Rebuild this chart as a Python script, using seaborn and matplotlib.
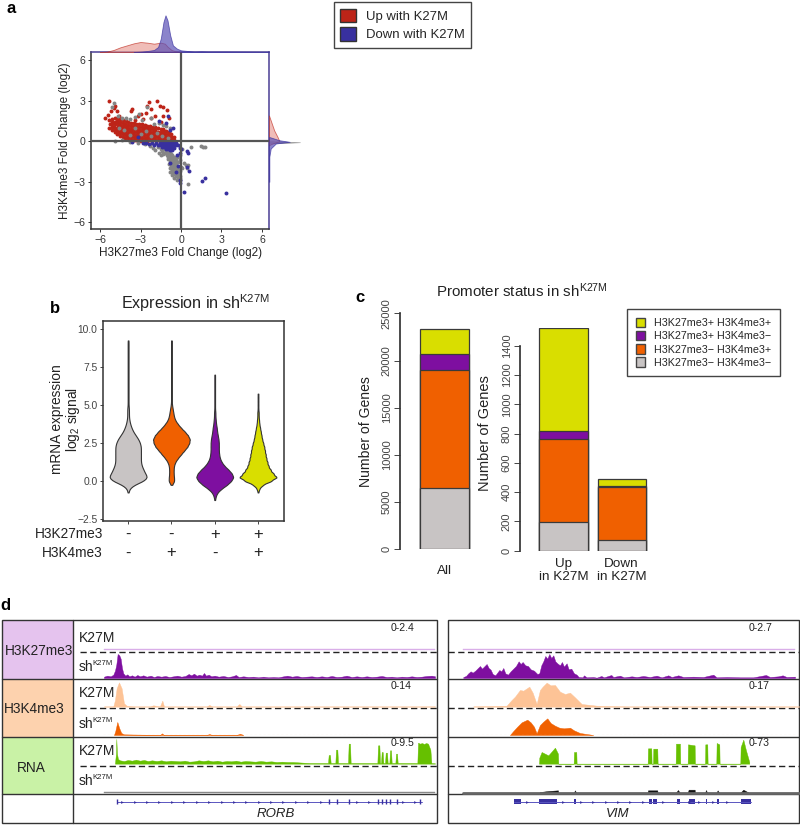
import numpy as np
import pandas as pd
import seaborn as sns
import matplotlib.pyplot as plt
from matplotlib.patches import Patch, Rectangle

# ---- panel a: fold changes ----
red_points = [
    (-5.3,1.0),(-5.25,1.3),(-5.3,1.55),(-5.12,0.85),(-5.1,1.05),(-5.15,1.25),(-5.08,1.45),(-5.1,1.65),
    (-4.92,0.65),(-4.9,0.85),(-4.95,1.05),(-4.88,1.25),(-4.9,1.45),(-4.92,1.68),(-4.72,0.55),(-4.7,0.75),(-4.75,0.95),
    (-4.68,1.15),(-4.7,1.35),(-4.72,1.5),(-4.7,1.72),(-4.52,0.42),(-4.5,0.62),(-4.55,0.82),(-4.48,1.02),(-4.5,1.22),
    (-4.52,1.42),(-4.5,1.62),(-4.32,0.32),(-4.3,0.52),(-4.35,0.72),(-4.28,0.92),(-4.3,1.12),(-4.32,1.32),(-4.3,1.55),(-4.12,0.25),
    (-4.1,0.45),(-4.15,0.65),(-4.08,0.85),(-4.1,1.05),(-4.12,1.25),(-4.1,1.48),(-3.92,0.2),(-3.9,0.4),(-3.95,0.6),
    (-3.88,0.8),(-3.9,1.0),(-3.92,1.22),(-3.9,1.42),(-3.72,0.12),(-3.7,0.32),(-3.75,0.52),(-3.68,0.72),(-3.7,0.92),
    (-3.72,1.12),(-3.7,1.38),(-3.52,0.1),(-3.5,0.3),(-3.55,0.5),(-3.48,0.7),(-3.5,0.9),(-3.52,1.12),(-3.5,1.35),(-3.32,0.08),
    (-3.3,0.28),(-3.35,0.48),(-3.28,0.68),(-3.3,0.88),(-3.32,1.08),(-3.3,1.3),(-3.12,0.05),(-3.1,0.25),(-3.15,0.45),
    (-3.08,0.65),(-3.1,0.85),(-3.12,1.05),(-3.1,1.28),(-2.92,0.05),(-2.9,0.25),(-2.95,0.45),(-2.88,0.65),(-2.9,0.85),
    (-2.92,1.02),(-2.9,1.25),(-2.72,0.05),(-2.7,0.25),(-2.75,0.45),(-2.68,0.65),(-2.7,0.85),(-2.72,1.0),(-2.7,1.2),(-2.52,0.05),
    (-2.5,0.25),(-2.55,0.45),(-2.48,0.65),(-2.5,0.85),(-2.52,0.98),(-2.5,1.15),(-2.32,0.08),(-2.3,0.28),(-2.35,0.48),
    (-2.28,0.68),(-2.3,0.88),(-2.3,1.1),(-2.12,0.08),(-2.1,0.28),(-2.15,0.48),(-2.08,0.68),(-2.1,0.88),(-2.1,1.05),(-1.92,0.08),
    (-1.9,0.28),(-1.95,0.48),(-1.88,0.68),(-1.9,0.85),(-1.9,1.02),(-1.72,0.1),(-1.7,0.3),(-1.75,0.5),(-1.68,0.7),(-1.7,0.95),
    (-1.52,0.1),(-1.5,0.3),(-1.55,0.5),(-1.48,0.7),(-1.5,0.9),(-1.32,0.12),(-1.3,0.32),(-1.35,0.52),(-1.28,0.72),(-1.3,0.88),
    (-1.12,0.12),(-1.1,0.32),(-1.15,0.52),(-1.08,0.72),(-0.92,0.1),(-0.9,0.3),(-0.95,0.5),(-0.88,0.66),
    (-0.72,0.1),(-0.7,0.3),(-0.75,0.5),(-0.55,0.12),(-0.55,0.3),(-0.52,0.02),
    (-5.3,3.0),(-5.2,2.25),(-5.4,1.95),(-5.6,1.75),(-5.0,2.45),(-4.9,2.6),(-4.75,2.2),(-4.6,1.9),(-3.6,2.35),
    (-3.7,2.2),(-3.2,1.9),(-3.0,2.0),(-2.4,2.9),(-2.55,2.6),(-2.2,2.35),(-2.6,2.05),(-1.75,3.0),(-1.55,2.6),
    (-1.3,2.55),(-1.05,2.3),(-1.9,1.9),(-2.2,1.75),(-1.3,1.85),(-0.9,1.75),(-2.8,1.65),(-1.5,1.4),(-3.4,1.55),
]
gray_points = [
    (-4.95,2.8),(-5.1,2.5),(-4.7,1.9),(-4.4,1.75),(-4.1,1.7),(-3.8,1.65),(-3.4,1.8),(-3.1,2.0),(-2.9,1.55),
    (-2.5,2.5),(-2.2,1.7),(-2.0,1.3),(-1.6,1.35),(-1.3,1.2),(-1.1,1.1),(-0.8,1.0),(-4.6,1.0),(-4.2,0.8),
    (-3.8,0.45),(-3.4,0.95),(-3.0,0.55),(-2.6,0.75),(-2.2,0.35),(-1.8,0.6),(-1.4,0.4),(-1.0,0.2),(-4.9,0.05),
    (-4.4,0.1),(-3.8,-0.05),(-3.2,-0.12),(-2.7,-0.2),(-2.3,-0.35),(-2.1,-0.5),(-1.9,-0.65),(-1.7,-0.45),
    (-1.5,-0.55),(-1.4,-0.75),(-1.25,-0.6),(-1.2,-0.9),(-1.1,-0.75),(-1.05,-1.05),(-0.95,-0.9),(-0.95,-1.2),
    (-0.85,-0.75),(-0.85,-1.05),(-0.85,-1.35),(-0.8,-1.55),(-0.75,-0.95),(-0.75,-1.2),(-0.75,-1.45),(-0.75,-1.75),
    (-0.7,-2.0),(-0.65,-1.05),(-0.65,-1.3),(-0.65,-1.6),(-0.65,-1.85),(-0.65,-2.15),(-0.6,-2.35),(-0.55,-1.15),
    (-0.55,-1.45),(-0.55,-1.7),(-0.55,-1.95),(-0.55,-2.2),(-0.5,-2.45),(-0.45,-1.3),(-0.45,-1.6),(-0.45,-1.85),
    (-0.45,-2.1),(-0.45,-2.35),(-0.4,-2.6),(-0.35,-1.5),(-0.35,-1.75),(-0.35,-2.0),(-0.35,-2.25),(-0.35,-2.5),
    (-0.25,-1.9),(-0.25,-2.15),(-0.25,-2.4),(-0.25,-2.7),(-0.15,-2.3),(-0.15,-2.6),(-0.1,-2.9),(-0.1,-1.0),
    (-1.3,-0.95),(-1.0,-1.35),(-0.9,-1.7),(-0.85,-2.0),(-0.8,-2.25),(-0.7,-2.5),(-0.55,-2.7),(-0.2,-1.55),(-0.15,-1.9),
    (-0.1,-1.4),(-0.25,-1.2),(-0.35,-1.25),(-0.1,-2.55),(-0.05,-2.75),(-0.3,-2.9),(-1.6,-0.85),(-1.45,-1.05),
    (0.1,-0.6),(0.2,-1.6),(0.35,-1.8),(0.5,-1.75),(0.45,-2.0),(0.75,-0.45),(1.5,-0.35),(1.6,-0.4),(1.8,-0.4),
    (0.5,-3.2),(-0.05,-2.2),(0.0,-1.9),(0.1,-2.0),
]
blue_points = [
    (-3.6,-0.05),(-3.2,0.3),(-2.85,-0.15),(-2.6,-0.1),(-2.35,-0.2),(-2.15,-0.15),(-2.0,-0.25),(-1.85,-0.15),
    (-1.7,-0.3),(-1.55,-0.12),(-1.55,-0.3),(-1.4,-0.1),(-1.4,-0.25),(-1.4,-0.42),(-1.25,-0.1),(-1.25,-0.28),
    (-1.25,-0.45),(-1.1,-0.08),(-1.1,-0.25),(-1.1,-0.42),(-1.1,-0.58),(-0.95,-0.08),(-0.95,-0.25),(-0.95,-0.42),
    (-0.95,-0.6),(-0.8,-0.1),(-0.8,-0.27),(-0.8,-0.45),(-0.8,-0.62),(-0.65,-0.1),(-0.65,-0.27),(-0.65,-0.45),
    (-0.65,-0.65),(-0.5,-0.12),(-0.5,-0.3),(-0.5,-0.5),(-0.35,-0.1),(-0.35,-0.3),(-0.2,-0.25),(-1.6,1.5),
    (-1.0,1.9),(-0.85,0.85),(-1.1,1.35),(-0.6,0.95),(-0.05,-0.5),(0.0,-0.6),(-0.05,-0.9),(0.45,-0.75),
    (0.55,-0.85),(-0.3,-1.0),(-0.85,-1.6),(-0.2,-1.85),(-0.4,-2.3),(-0.1,-2.85),(-0.05,-3.1),(0.25,-3.75),
    (0.45,-1.9),(0.6,-2.2),(1.55,-2.95),(1.75,-2.75),(3.3,-3.85),
]
# marginal densities, height in arbitrary units
top_red_x = [-6.0,-5.5,-5.0,-4.5,-4.0,-3.5,-3.0,-2.5,-2.0,-1.5,-1.2,-1.0,-0.7,-0.4,0.0]
top_red_y = [0,1,6,14,20,26,30,28,25,28,25,16,6,2,0]
top_blue_x = [-3.5,-3.0,-2.5,-2.0,-1.7,-1.5,-1.3,-1.15,-1.0,-0.8,-0.6,-0.3,0.0,0.5,1.0,1.5,2.0,3.3,6.5]
top_blue_y = [0,1,3,6,15,40,90,110,95,50,20,10,5,3,1,2,1,1,0]
right_red_y = [1.9,0.8,0.3,0.0,-0.17,-0.3]
right_red_x = [0,15,25,30,10,0]
right_blue_y = [0.3,0.07,-0.05,-0.17,-0.54,-1.15,-3.0]
right_blue_x = [2,30,60,20,5,1,1]
right_gray_y = [0.02,-0.08,-0.18]
right_gray_x = [0,90,0]
fold_ticks = [-6,-3,0,3,6]

# ---- panel b: violin widths per expression level ----
expr_levels = [-1.25,-1,-.75,-.5,-.25,0,.25,.5,.75,1,
               1.25,1.5,1.75,2,2.25,2.5,2.75,3,3.25,3.5,
               3.75,4,4.25,4.5,4.75,5,5.25,5.5,5.75,6,
               6.25,6.5,6.75,7,7.25,7.5,7.75,8,8.25,8.5,
               8.75,9,9.25]
gray_counts = [0,0,1,3,14,36,46,40,36,32, 30,30,30,30,30,28,24,18,12,8, 5,3,2,2,2,1,1,1,1,1, 1,1,1,1,1,1,1,1,1,1, 1,1,1]
orange_counts = [0,0,0,0,2,9,8,7,7,8, 12,20,30,40,50,56,58,52,42,30, 20,12,8,6,4,2,1,1,1,1, 1,1,1,1,1,1,1,1,1,1, 1,1,1]
purple_counts = [1,3,8,20,36,48,55,50,40,28, 20,15,13,12,12,12,11,9,7,6, 4,3,2,2,1,1,1,1,1,1, 1,1,1,1,0,0,0,0,0,0, 0,0,0]
yellow_counts = [0,0,1,4,14,38,55,44,36,30, 27,24,22,20,18,15,12,10,8,6, 4,3,2,2,1,1,1,1,1,0, 0,0,0,0,0,0,0,0,0,0, 0,0,0]
violin_groups = ["none", "k4", "k27", "both"]
k27_marks = ["-", "-", "+", "+"]
k4_marks = ["-", "+", "-", "+"]
expr_ticks = [-2.5, 0.0, 2.5, 5.0, 7.5, 10.0]

# ---- panel c: gene counts per status ----
status_names = ["H3K27me3\u2212 H3K4me3\u2212", "H3K27me3\u2212 H3K4me3+", "H3K27me3+ H3K4me3\u2212", "H3K27me3+ H3K4me3+"]
all_genes = [[6450], [12500], [1750], [2600]]
diff_labels = ["Up\nin K27M", "Down\nin K27M"]
up_down_genes = [[195, 72], [565, 363], [55, 10], [705, 45]]
all_ticks = [0, 5000, 10000, 15000, 20000, 25000]
diff_ticks = [0, 200, 400, 600, 800, 1000, 1200, 1400]

# ---- panel d: browser tracks, position and height in track units ----
rorb_k27_top_x = [312, 1305]
rorb_k27_top_y = [3, 3]
rorb_k27_sh = [(312,4),(322,7),(332,5),(340,10),(345,22),(349,40),(353,72),(358,68),(362,58),(366,30),(370,14),(376,7),(382,11),(388,5),
    (396,8),(404,4),(412,9),(420,5),(430,8),(440,4),(452,7),(462,3),(472,6),(484,4),(496,6),(508,3),(520,5),(532,7),(544,4),(556,6),
    (566,12),(574,8),(582,13),(590,7),(598,10),(606,7),(612,15),(618,7),(626,10),(634,5),(644,7),(656,4),(670,6),(684,3),(696,5),(708,9),
    (716,3),(730,5),(745,3),(760,4),(775,2),(790,4),(805,2),(820,3),(835,2),(850,5),(862,7),(876,4),(890,6),(905,3),(920,4),(935,5),
    (950,3),(965,5),(980,3),(995,6),(1010,3),(1025,4),(1040,7),(1055,3),(1070,5),(1085,3),(1100,5),(1115,3),(1130,4),(1145,6),(1160,3),
    (1175,4),(1190,2),(1205,4),(1220,3),(1235,5),(1250,3),(1265,4),(1280,6),(1295,7),(1305,5)]
rorb_k4_top_x = [312,340,345,350,357,365,372,380,400,450,460,480,487,492,620,628,636,710,718,725,1305]
rorb_k4_top_y = [1,1,20,55,73,55,10,3,1,1,4,1,18,1,1,5,1,1,8,1,1]
rorb_k4_sh_x = [342,346,352,358,364,372,480,486,492,620,628,636,710,720,730]
rorb_k4_sh_y = [0,12,39,20,6,2,0,5,0,0,3,0,0,4,0]
rorb_rna_top = [(345,2),(348,30),(349,74),(351,30),(354,14),(360,10),(372,8),(384,11),(396,9),(408,12),(420,9),(432,11),(444,8),(456,10),(470,8),
    (484,10),(498,7),(512,9),(526,8),(540,7),(554,9),(568,6),(582,7),(596,10),(610,8),(624,10),(638,7),(652,9),(666,6),(680,8),(694,7),
    (708,9),(722,6),(736,8),(750,7),(766,6),(782,8),(798,6),(814,7),(830,5),(846,6),(862,5),(878,5),(894,4),(910,3),(930,2),(984,2),
    (986,26),(990,26),(992,2),(1006,2),(1008,42),(1012,42),(1014,2),(1044,2),(1046,60),(1050,60),(1052,2),(1132,2),(1134,55),(1138,55),(1140,2),
    (1143,2),(1145,35),(1148,35),(1150,2),(1155,2),(1157,33),(1161,33),(1163,2),(1168,2),(1170,40),(1173,40),(1175,2),(1186,2),(1188,30),(1191,30),
    (1193,2),(1252,2),(1254,63),(1260,60),(1266,62),(1272,59),(1278,62),(1284,60),(1291,42),(1294,2),(1305,1)]
rorb_rna_sh_x = [312, 1305]
rorb_rna_sh_y = [1.5, 1.5]
rorb_exons = [350,988,1010,1047,1134,1145,1157,1170,1190,1260]
rorb_span = [350, 1265]
vim_k27_top_x = [70, 1065]
vim_k27_top_y = [3, 3]
vim_k27_sh = [(70,3),(78,6),(85,14),(92,20),(98,16),(106,22),(114,30),(120,36),(126,28),(132,34),(140,42),(146,30),(152,25),(158,12),(166,8),(172,16),
    (178,24),(184,20),(190,30),(196,14),(204,10),(212,20),(220,28),(228,36),(236,50),(242,42),(248,48),(256,38),(264,36),(272,26),(282,22),(292,12),
    (298,14),(304,38),(310,50),(316,66),(322,58),(328,72),(334,60),(340,68),(346,50),(352,44),(360,38),(366,48),(372,34),(380,44),(386,26),(394,28),(402,14),
    (410,10),(416,3),(428,2),(432,8),(440,2),(460,3),(470,1),(484,6),(492,2),(514,9),(520,3),(540,7),(552,2),(575,5),(590,3),(610,6),(630,3),(650,7),
    (665,2),(685,8),(695,3),(715,8),(730,3),(760,4),(790,3),(820,10),(830,2),(860,3),(900,2),(940,2),(978,9),(990,3),(1015,5),(1028,8),(1040,3),(1065,4)]
vim_k4_top_x = [100,200,215,225,240,250,268,278,290,300,308,320,332,345,360,375,390,405,425,470,560,700,1078]
vim_k4_top_y = [1,3,20,30,50,48,60,42,8,50,60,72,64,65,45,38,42,28,8,3,1,1,1]
vim_k4_sh_x = [210,220,232,245,262,272,282,290,300,310,322,332,345,358,372,390,402,420,460]
vim_k4_sh_y = [0,12,25,38,46,38,25,5,30,40,50,36,28,22,20,22,14,6,0]
vim_rna_top_x = [297,298,305,325,345,354,355,401,402,409,410,623,624,634,635,639,640,652,653,707,708,720,721,743,744,764,765,795,796,802,803,829,830,838,839,901,902,910,918,928]
vim_rna_top_y = [0,18,35,25,48,30,0,0,35,35,0,0,46,46,0,0,45,45,0,0,60,60,0,0,58,55,0,0,58,58,0,0,62,58,0,0,50,72,40,5]
vim_rna_sh_x = [297,300,325,354,355,401,405,409,623,624,652,653,707,714,720,743,746,764,765,795,798,802,829,833,838,900,910,928]
vim_rna_sh_y = [0,3,6,8,0,0,8,0,0,8,8,0,0,9,0,0,10,10,0,0,9,0,0,8,0,0,10,0]
vim_baseline_x = [70, 1078]
vim_exons = [(222,242),(298,310),(310,352),(403,407),(626,636),(640,652),(710,720),(746,764),(797,801),(832,837),(904,932)]
vim_span = [222, 932]
gene_chevrons_rorb = [366,404,441,478,515,553,590,627,665,702,739,776,813,850,887,925,962,1070,1107,1208,1245]
gene_chevrons_vim = [260,370,423,460,497,534,571,608,668,746,778,818,860]

# style
sns.set_theme(style="white")
plt.rcParams['font.family'] = ['Liberation Sans', 'DejaVu Sans']
plt.rcParams['mathtext.fontset'] = 'custom'
plt.rcParams['mathtext.rm'] = 'Liberation Sans'
plt.rcParams['mathtext.default'] = 'regular'
plt.rcParams['axes.edgecolor'] = '#333333'

W, H = 800, 825
RED, BLUE, SPOT_GRAY = "#bd2418", "#38309f", "#858585"
STATUS_COLORS = ["#c8c4c4", "#f06000", "#7e0fa0", "#d9de00"]
PURPLE_D, ORANGE_D, GREEN_D = "#7e0fa0", "#f06000", "#66c000"
PURPLE_L, ORANGE_L = "#d9aee8", "#fdc396"
TXT = "#222222"
fig = plt.figure(figsize=(W / 100, H / 100), dpi=100)


def px_axes(x0, y0, x1, y1):
    return fig.add_axes([x0 / W, 1 - y1 / H, (x1 - x0) / W, (y1 - y0) / H])


# all free text and the browser frames live on a pixel canvas
canvas = fig.add_axes([0, 0, 1, 1], zorder=-1)
canvas.set_xlim(0, W)
canvas.set_ylim(H, 0)
canvas.axis("off")

for label, x, y in [("a", 11, 13), ("b", 55, 313), ("c", 360, 302), ("d", 5, 610)]:
    canvas.text(x, y, label, fontsize=12, fontweight="bold", ha="center", va="baseline", color="black")

# a
ax_a = px_axes(91, 52, 269, 229)
for pts, col in [(red_points, RED), (gray_points, SPOT_GRAY), (blue_points, BLUE)]:
    xs, ys = zip(*pts)
    sns.scatterplot(x=list(xs), y=list(ys), color=col, s=8, linewidth=0, ax=ax_a, zorder=2)
ax_a.axhline(0, color="#555555", lw=1.6, zorder=3)
ax_a.axvline(0, color="#555555", lw=1.6, zorder=3)
ax_a.set_xlim(-6.67, 6.52)
ax_a.set_ylim(-6.5, 6.6)
ax_a.set_xticks(fold_ticks)
ax_a.set_yticks(fold_ticks)
ax_a.set_xticklabels(["\u22126", "\u22123", "0", "3", "6"])
ax_a.set_yticklabels(["\u22126", "\u22123", "0", "3", "6"])
ax_a.tick_params(length=2.5, width=0.7, labelsize=7.6, colors="#333333", pad=1.5, left=True, bottom=True)
for side in ["top", "right"]:
    ax_a.spines[side].set_color("#4a3f95")
for side in ax_a.spines:
    ax_a.spines[side].set_linewidth(1.1)
canvas.text(181, 253, "H3K27me3 Fold Change (log2)", fontsize=8.5, ha="center", va="center", color=TXT)
canvas.text(65, 141, "H3K4me3 Fold Change (log2)", fontsize=8.5, rotation=90, ha="center", va="center", color=TXT)

ax_top = px_axes(91, 14, 269, 52)
ax_top.fill_between(top_red_x, top_red_y, color="#e89a92", alpha=0.65, lw=0.6, edgecolor=RED)
ax_top.fill_between(top_blue_x, top_blue_y, color="#5a50b5", alpha=0.7, lw=0.6, edgecolor=BLUE)
ax_top.set_xlim(-6.67, 6.52)
ax_top.set_ylim(0, 114)
ax_top.axis("off")

ax_right = px_axes(269, 52, 300, 229)
ax_right.fill_betweenx(right_gray_y, right_gray_x, color="#999999", lw=0.4)
ax_right.fill_betweenx(right_red_y, right_red_x, color="#e89a92", alpha=0.65, lw=0.6, edgecolor=RED)
ax_right.fill_betweenx(right_blue_y, right_blue_x, color="#5a50b5", alpha=0.7, lw=0.6, edgecolor=BLUE)
ax_right.set_ylim(-6.5, 6.6)
ax_right.set_xlim(0, 90)
ax_right.axis("off")

fig.legend(handles=[Patch(facecolor=RED, edgecolor="#333333", label="Up with K27M"),
                    Patch(facecolor=BLUE, edgecolor="#333333", label="Down with K27M")],
           loc="upper left", bbox_to_anchor=(333.5 / W, 1 - 2 / H), borderaxespad=0, fontsize=9.45,
           fancybox=False, framealpha=1, edgecolor="#444444", handlelength=1.2, handleheight=1.2,
           handletextpad=0.75, labelspacing=0.35, borderpad=0.5)

# b
ax_b = px_axes(103, 321, 284, 521)
violin_df = pd.DataFrame({
    "group": np.repeat(violin_groups, [sum(c) for c in (gray_counts, orange_counts, purple_counts, yellow_counts)]),
    "value": np.concatenate([np.repeat(expr_levels, c) for c in (gray_counts, orange_counts, purple_counts, yellow_counts)]),
})
sns.violinplot(data=violin_df, x="group", y="value", hue="group", order=violin_groups, hue_order=violin_groups,
               palette=STATUS_COLORS, inner=None, cut=0, density_norm="width", width=0.85, bw_method=0.1, saturation=1,
               linewidth=0.8, linecolor="#333333", legend=False, ax=ax_b)
ax_b.set_xlim(-0.58, 3.6)
ax_b.set_ylim(-2.63, 10.53)
ax_b.set_yticks(expr_ticks)
ax_b.set_yticklabels(["\u22122.5", "0.0", "2.5", "5.0", "7.5", "10.0"])
ax_b.set_xticks(range(4))
ax_b.set_xticklabels([])
ax_b.set_xlabel("")
ax_b.set_ylabel("")
ax_b.tick_params(length=2.5, width=0.7, labelsize=7.4, colors="#444444", pad=1.5, left=True, bottom=True)
for side in ax_b.spines:
    ax_b.spines[side].set_linewidth(1.1)
trans = ax_b.get_xaxis_transform()
for i in range(4):
    ax_b.text(i, -0.065, k27_marks[i], transform=trans, fontsize=12, ha="center", va="center", color=TXT)
    ax_b.text(i, -0.16, k4_marks[i], transform=trans, fontsize=12, ha="center", va="center", color=TXT)
canvas.text(103, 534, "H3K27me3", fontsize=9.8, ha="right", va="center", color=TXT)
canvas.text(103, 553, "H3K4me3", fontsize=9.8, ha="right", va="center", color=TXT)
canvas.text(195, 303, "Expression in sh$^{K27M}$", fontsize=11.6, ha="center", va="center", color=TXT)
canvas.text(57, 419, "mRNA expression", fontsize=9.9, rotation=90, ha="center", va="center", color=TXT)
canvas.text(73, 419, "log$_2$ signal", fontsize=9.9, rotation=90, ha="center", va="center", color=TXT)


# c
def stacked(ax, labels, layers):
    # tallest cumulative first, shorter ones painted over it
    tops = np.cumsum(np.array(layers), axis=0)
    for i in range(3, -1, -1):
        sns.barplot(x=labels, y=tops[i], color=STATUS_COLORS[i], saturation=1, width=0.83,
                    edgecolor="#3a3a3a", linewidth=0.9, ax=ax)
    sns.despine(ax=ax, bottom=True)
    ax.tick_params(axis="y", length=4, width=0.7, labelsize=8, colors="#444444", pad=2, left=True)
    ax.tick_params(axis="x", length=0, labelsize=9.7, colors=TXT, pad=5)


ax_c1 = px_axes(400, 313.3, 490, 549.3)
stacked(ax_c1, ["All"], all_genes)
ax_c1.set_xlim(-0.755, 0.78)
ax_c1.set_ylim(0, 25000)
ax_c1.set_yticks(all_ticks)
ax_c1.set_yticklabels(all_ticks, rotation=90, va="center")
ax_c1.tick_params(axis="x", pad=11)

ax_c2 = px_axes(520, 328.2, 660, 550.7)
stacked(ax_c2, diff_labels, up_down_genes)
ax_c2.set_xlim(-0.75, 1.66)
ax_c2.set_ylim(0, 1520)
ax_c2.set_yticks(diff_ticks)
ax_c2.set_yticklabels(diff_ticks, rotation=90, va="center")
ax_c2.spines["left"].set_bounds(0, 1400)
ax_c2.patch.set_alpha(0)
ax_c1.patch.set_alpha(0)

canvas.text(366, 432, "Number of Genes", fontsize=10.1, rotation=90, ha="center", va="center", color=TXT)
canvas.text(485, 433, "Number of Genes", fontsize=10.5, rotation=90, ha="center", va="center", color=TXT)
canvas.text(522, 291, "Promoter status in sh$^{K27M}$", fontsize=10.9, ha="center", va="center", color=TXT)

fig.legend(handles=[Patch(facecolor=STATUS_COLORS[i], edgecolor="#444444", label=status_names[i]) for i in [3, 2, 1, 0]],
           loc="upper left", bbox_to_anchor=(627 / W, 1 - 309 / H), borderaxespad=0, fontsize=7.75,
           fancybox=False, framealpha=1, edgecolor="#444444", handlelength=0.9, handleheight=1.0,
           handletextpad=0.85, labelspacing=0.25, borderpad=0.8)

# d
row_edges = [620, 679, 736.7, 794.3, 823]
row_fill = ["#e5c3ee", "#fdd2ae", "#c9f2a6"]
row_names = ["H3K27me3", "H3K4me3", "RNA"]
row_name_x = [39, 34, 31]
row_name_y = [651, 709, 768]
for i in range(3):
    canvas.add_patch(Rectangle((2, row_edges[i]), 71.3, row_edges[i + 1] - row_edges[i], facecolor=row_fill[i], edgecolor="none"))
    canvas.text(row_name_x[i], row_name_y[i], row_names[i], fontsize=9.8, ha="center", va="center", color=TXT)
for x0, x1 in [(2, 436.5), (447.5, 799)]:
    canvas.add_patch(Rectangle((x0, 620), x1 - x0, 203, facecolor="none", edgecolor="#333333", lw=1))
    for y in row_edges[1:4]:
        canvas.plot([x0, x1], [y, y], color="#333333", lw=1)
    start = 80 if x0 == 2 else x0
    for y in [651.7, 707.7, 765.7]:
        canvas.plot([start, x1], [y, y], color=TXT, lw=1, ls=(0, (4.5, 2.5)))
canvas.plot([73.3, 73.3], [620, 823], color="#333333", lw=1)
for y in [638, 693, 751]:
    canvas.text(79, y, "K27M", fontsize=10, ha="left", va="center", color=TXT)
for y in [667, 724, 781]:
    canvas.text(79, y, "sh", fontsize=10, ha="left", va="center", color=TXT)
    canvas.text(92.5, y - 3.5, "K27M", fontsize=5.6, ha="left", va="center", color=TXT)
for x, y, s in [(391, 628, "0-2.4"), (391, 686, "0-14"), (391, 743, "0-9.5"),
                (749, 628, "0-2.7"), (749, 686, "0-17"), (749, 743, "0-73")]:
    canvas.text(x, y, s, fontsize=7.6, ha="left", va="center", color=TXT)
canvas.text(276, 814, "RORB", fontsize=9.5, style="italic", ha="center", va="center", color=TXT)
canvas.text(618, 814, "VIM", fontsize=9.5, style="italic", ha="center", va="center", color=TXT)

track_bottoms = [150, 234, 320, 405, 491, 579]
track_colors = [PURPLE_L, PURPLE_D, ORANGE_L, ORANGE_D, GREEN_D, "#888888"]
rorb_tracks = [(rorb_k27_top_x, rorb_k27_top_y), tuple(zip(*rorb_k27_sh)), (rorb_k4_top_x, rorb_k4_top_y),
               (rorb_k4_sh_x, rorb_k4_sh_y), tuple(zip(*rorb_rna_top)), (rorb_rna_sh_x, rorb_rna_sh_y)]
vim_tracks = [(vim_k27_top_x, vim_k27_top_y), tuple(zip(*vim_k27_sh)), (vim_k4_top_x, vim_k4_top_y),
              (vim_k4_sh_x, vim_k4_sh_y), (vim_rna_top_x, vim_rna_top_y), (vim_rna_sh_x, vim_rna_sh_y)]


def track_axes(px_left, px_right, xlim, bottom, top):
    ax = px_axes(px_left, 600 + top / 3, px_right, 600 + bottom / 3)
    ax.set_xlim(*xlim)
    ax.set_ylim(0, bottom - top)
    ax.axis("off")
    return ax


for tracks, px_l, px_r, xlim, panel in [(rorb_tracks, 73.3, 436.7, (220, 1310), "rorb"), (vim_tracks, 447.3, 799.3, (22, 1078), "vim")]:
    for i, (xs, ys) in enumerate(tracks):
        ax = track_axes(px_l, px_r, xlim, track_bottoms[i], track_bottoms[i] - 80)
        col = track_colors[i]
        if panel == "vim" and i == 5:
            col = "#111111"
            ax.plot(vim_baseline_x, [-1, -1], color="#666666", lw=2, clip_on=False)
        if i == 3:
            # faint background reads along the baseline
            ax.plot([xlim[0] + 90, xlim[1] - 5], [1, 1], color=ORANGE_L, lw=0.8, ls=(0, (2, 2)))
        ax.fill_between(list(xs), list(ys), color=col, lw=0.3)

    # gene model
    gene = track_axes(px_l, px_r, xlim, 620, 590)
    gene.set_ylim(-15, 15)
    if panel == "rorb":
        gene.plot(rorb_span, [0, 0], color="#5a55c0", lw=0.7)
        gene.vlines(rorb_exons, -8, 8, color=BLUE, lw=1)
        gene.plot(gene_chevrons_rorb, [0] * len(gene_chevrons_rorb), ">", color=BLUE, ms=2, mew=0)
    else:
        gene.plot(vim_span, [0, 0], color="#5a55c0", lw=0.7)
        for a, b in vim_exons:
            gene.fill_between([a, b], -8, 8, color=BLUE, lw=0)
        gene.plot(gene_chevrons_vim, [0] * len(gene_chevrons_vim), ">", color=BLUE, ms=2, mew=0)

fig.savefig("out.png", dpi=100)
